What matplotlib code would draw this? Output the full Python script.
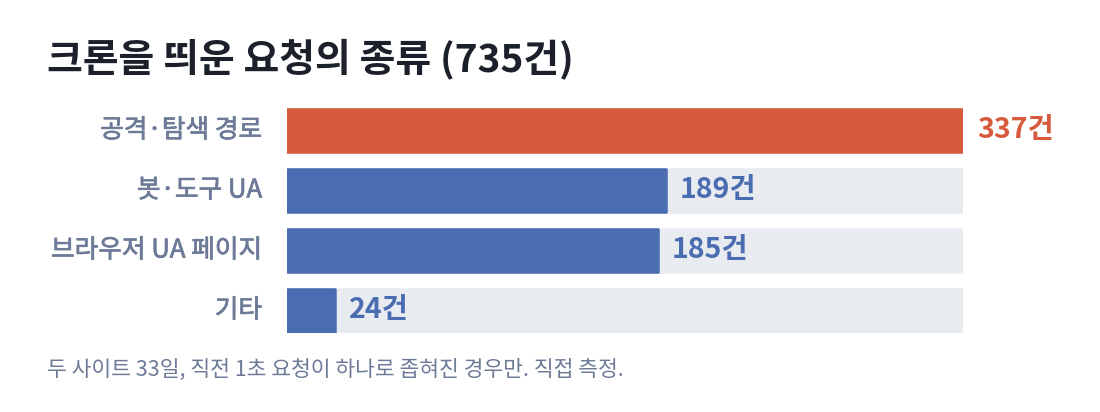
import matplotlib.pyplot as plt
import matplotlib.patheffects as pe

plt.rcParams['font.family'] = ['Noto Sans CJK KR', 'DejaVu Sans']

# data
categories = ['공격·탐색 경로', '봇·도구 UA', '브라우저 UA 페이지', '기타']
counts = [337, 189, 185, 24]
total = 735

title = f'크론을 띄운 요청의 종류 ({total}건)'
note = '두 사이트 33일, 직전 1초 요청이 하나로 좁혀진 경우만. 직접 측정.'

RED = '#D65A3B'
BLUE = '#4A6CB1'
TRACK = '#E8EBF0'
LABEL = '#6C7A97'
DARK = '#1B202B'

fig = plt.figure(figsize=(11, 4.12), dpi=100)
ax = fig.add_axes([287 / 1100, 1 - 333 / 412, 676 / 1100, 225 / 412])

vmax = max(counts)
ypos = list(range(len(categories)))
colors = [RED if c == vmax else BLUE for c in counts]

# background tracks, then the values on top
ax.barh(ypos, [vmax] * len(ypos), height=0.73, color=TRACK, edgecolor=TRACK,
        linewidth=1.8, joinstyle='round', zorder=1)
ax.barh(ypos, counts, height=0.73, color=colors, edgecolor=colors,
        linewidth=1.8, joinstyle='round', zorder=2)

ax.set_xlim(0, vmax)
ax.set_ylim(len(categories) - 1 + 0.375, -0.375)
ax.axis('off')

# slightly heavier category labels (medium look)
thick = [pe.withStroke(linewidth=0.5, foreground=LABEL)]

px = vmax / 676
for y, cat, c, col in zip(ypos, categories, counts, colors):
    ax.text(-25 * px, y, cat, ha='right', va='center',
            fontsize=18.5, color=LABEL, path_effects=thick)
    ax.text(c + 14 * px, y, f'{c}건', ha='left', va='center',
            fontsize=20.5, fontweight='bold', color=col)

fig.text(47 / 1100, 1 - 59 / 412, title, ha='left', va='center',
         fontsize=28, fontweight='bold', color=DARK)
fig.text(47 / 1100, 1 - 370 / 412, note, ha='left', va='center',
         fontsize=15.5, color=LABEL)

fig.savefig('out.png', dpi=100, facecolor='white')
